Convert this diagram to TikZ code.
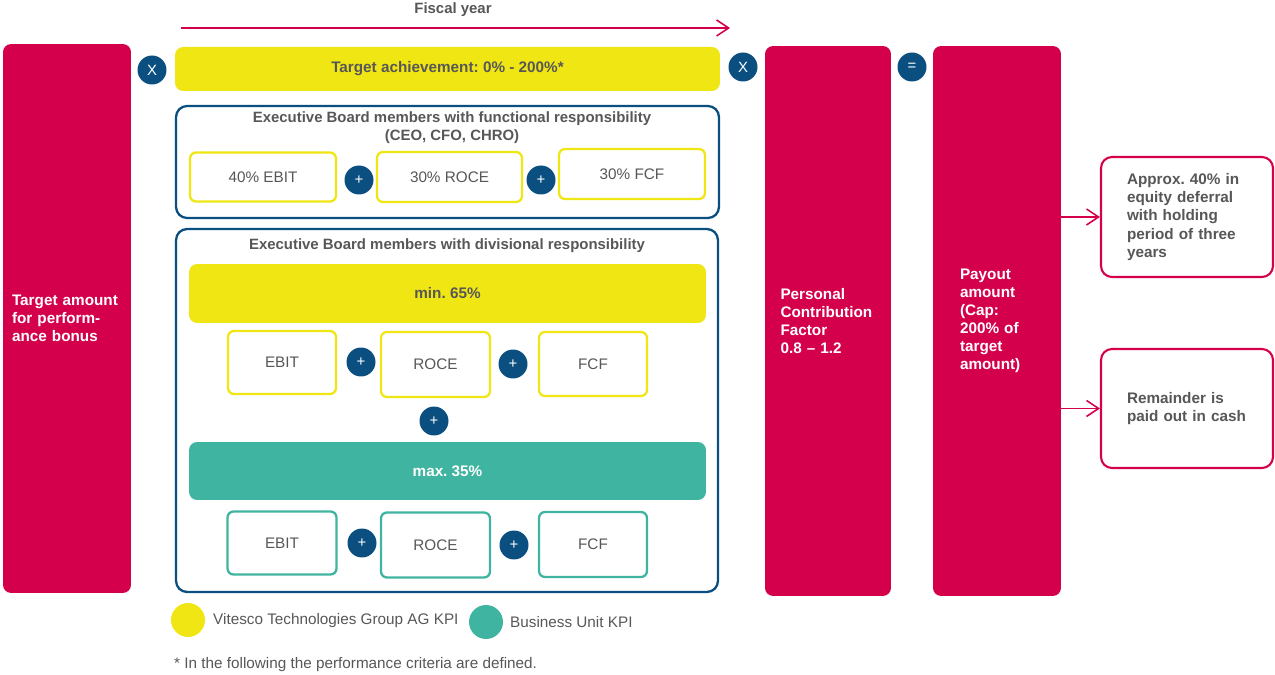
\documentclass[tikz,border=0pt]{standalone}
\usepackage{fontspec}
\setmainfont{Liberation Sans}
\usetikzlibrary{arrows.meta}
\definecolor{vred}{HTML}{D5004B}
\definecolor{vyellow}{HTML}{F0E614}
\definecolor{vteal}{HTML}{3FB4A0}
\definecolor{vblue}{HTML}{0A4F80}
\definecolor{vgray}{HTML}{575757}
\frenchspacing
\begin{document}
\begin{tikzpicture}[x=0.02cm, y=-0.02cm,
		every node/.style={font=\fontsize{8.7}{10.3}\selectfont, text=vgray},
		head/.style={font=\fontsize{8.7}{10.3}\selectfont\bfseries},
		title/.style={font=\fontsize{8.5}{10.2}\selectfont\bfseries},
		redbox/.style={fill=vred, rounded corners=0.16cm, text=white, head, align=left, inner sep=0pt},
		outbox/.style={draw=vred, line width=1.2pt, fill=white, rounded corners=0.22cm, head, align=left, inner sep=0pt},
		bar/.style={rounded corners=0.16cm, head, inner sep=0pt},
		group/.style={draw=vblue, line width=1.3pt, rounded corners=0.22cm, inner sep=0pt},
		kpi/.style={draw=#1, line width=1.3pt, fill=white, rounded corners=0.12cm, inner sep=0pt},
		op/.style={circle, fill=vblue, text=white, minimum size=0.58cm, inner sep=0pt, font=\fontsize{8.5}{9}\selectfont},
		key/.style={circle, fill=#1, minimum size=0.68cm, inner sep=0pt},
		flow/.style={draw=vred, line width=0.9pt, -{Straight Barb[length=0.24cm, width=0.32cm]}}]
			\useasboundingbox (0,0) rectangle (1275,675);
			
			\coordinate (fy1) at (181,28);
			\coordinate (fy2) at (730,28);
			\node[title] (fy) at (453,10) {Fiscal year};
			\draw[flow] (fy1) -- (fy2);
			
			\node[redbox, minimum width=2.56cm, minimum height=10.98cm, text width=2.2cm] (tam) at (67,318.5) {Target amount\\for perform-\\ance bonus};
			\node[op] (x1) at (152,70) {X};
			\node[bar, fill=vyellow, minimum width=10.9cm, minimum height=0.88cm] (ta) at (447.5,69) {Target achievement: 0\% - 200\%*};
			\node[op] (x2) at (743,67) {X};
			\node[redbox, minimum width=2.52cm, minimum height=11cm, text width=1.9cm] (pcf) at (828,321) {Personal\\Contribution\\Factor\\0.8 -- 1.2};
			\node[op] (eq) at (912,67) {=};
			\node[redbox, minimum width=2.56cm, minimum height=11cm, text width=1.48cm] (pay) at (997,321) {Payout\\amount\\(Cap:\\200\% of\\target\\amount)};
			
			\node[outbox, minimum width=3.44cm, minimum height=2.4cm, text width=2.4cm] (eq1) at (1187,217) {Approx. 40\% in\\equity deferral\\with holding\\period of three\\years};
			\node[outbox, minimum width=3.44cm, minimum height=2.38cm, text width=2.4cm] (eq2) at (1187,408.5) {Remainder is\\paid out in cash};
			\draw[flow] (pay.east |- eq1) -- (eq1);
			\draw[flow] (pay.east |- eq2) -- (eq2);
			
			\node[group, minimum width=10.86cm, minimum height=2.24cm] (fun) at (447.5,162) {};
			\node[title, align=center] (funt) at (452,128) {Executive Board members with functional responsibility\\(CEO, CFO, CHRO)};
			\node[kpi=vyellow, minimum width=2.92cm, minimum height=0.98cm] (f1) at (263,177) {40\% EBIT};
			\node[kpi=vyellow, minimum width=2.9cm, minimum height=1cm] (f2) at (449.5,177) {30\% ROCE};
			\node[kpi=vyellow, minimum width=2.92cm, minimum height=1cm] (f3) at (632,174) {30\% FCF};
			\node[op] (fp1) at (359,180) {+};
			\node[op] (fp2) at (541,180) {+};
			
			\node[group, minimum width=10.84cm, minimum height=7.26cm] (div) at (447,410.5) {};
			\node[title] (divt) at (447,246) {Executive Board members with divisional responsibility};
			\node[bar, fill=vyellow, minimum width=10.34cm, minimum height=1.18cm] (min) at (447.5,293.5) {min. 65\%};
			\node[kpi=vyellow, minimum width=2.16cm, minimum height=1.26cm] (d1) at (282,362.5) {EBIT};
			\node[kpi=vyellow, minimum width=2.18cm, minimum height=1.3cm] (d2) at (435.5,364.5) {ROCE};
			\node[kpi=vyellow, minimum width=2.16cm, minimum height=1.28cm] (d3) at (593,364) {FCF};
			\node[op] (dp1) at (361,362) {+};
			\node[op] (dp2) at (513,364) {+};
			\node[op] (dp) at (434,421) {+};
			\node[bar, fill=vteal, text=white, minimum width=10.34cm, minimum height=1.16cm] (max) at (447.5,471) {max. 35\%};
			\node[kpi=vteal, minimum width=2.18cm, minimum height=1.26cm] (b1) at (282,543) {EBIT};
			\node[kpi=vteal, minimum width=2.18cm, minimum height=1.3cm] (b2) at (435.5,545) {ROCE};
			\node[kpi=vteal, minimum width=2.16cm, minimum height=1.3cm] (b3) at (593,544.5) {FCF};
			\node[op] (bp1) at (362,543) {+};
			\node[op] (bp2) at (514,545) {+};
			
			\node[key=vyellow] (k1) at (188,620) {};
			\node[anchor=west] (k1t) at (207,621) {Vitesco Technologies Group AG KPI};
			\node[key=vteal] (k2) at (486,622) {};
			\node[anchor=west] (k2t) at (504,622) {Business Unit KPI};
			\node[anchor=west] (note) at (168,665) {* In the following the performance criteria are defined.};
		\end{tikzpicture}
\end{document}
